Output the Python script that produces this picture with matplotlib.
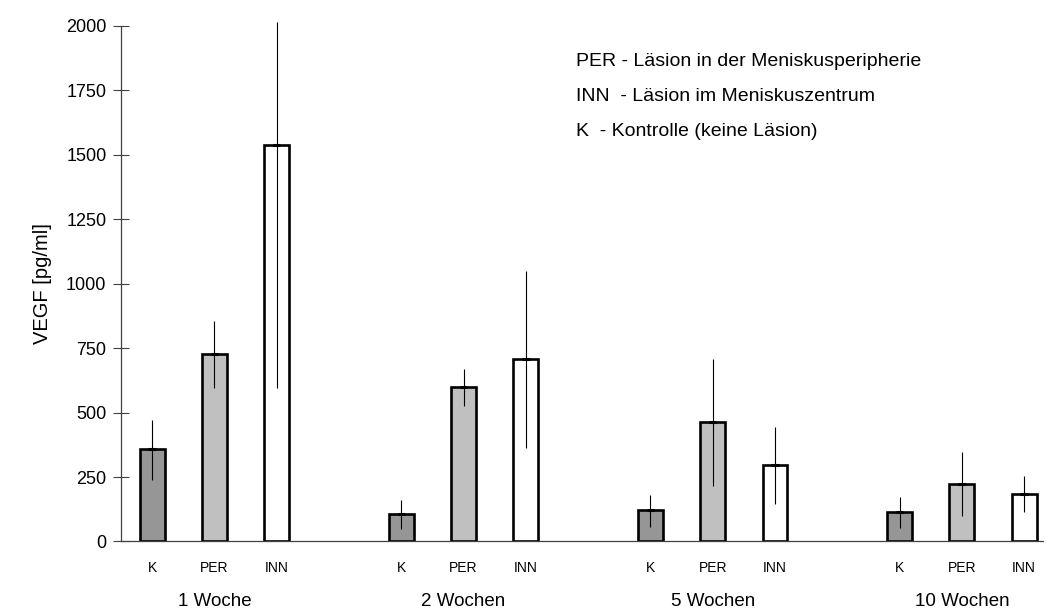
import matplotlib.pyplot as plt
import numpy as np

plt.rcParams['font.family'] = ['Liberation Sans', 'DejaVu Sans']

wochen = ["1 Woche", "2 Wochen", "5 Wochen", "10 Wochen"]
gruppen = ["K", "PER", "INN"]
farben = ["#969696", "#c0c0c0", "#ffffff"]

# Mittelwerte je Gruppe (K, PER, INN) pro Zeitpunkt
mittel = {
    "K":   [358, 106, 121, 115],
    "PER": [728, 599, 463, 225],
    "INN": [1539, 709, 296, 186],
}
# Fehlerbalken unten / oben
unten = {
    "K":   [239, 47, 57, 54],
    "PER": [596, 526, 217, 99],
    "INN": [597, 364, 144, 113],
}
oben = {
    "K":   [472, 161, 181, 172],
    "PER": [856, 669, 708, 348],
    "INN": [2017, 1050, 443, 253],
}

fig = plt.figure(figsize=(10.47, 6.10), dpi=100)
ax = fig.add_axes([0.1156, 0.1123, 0.8804, 0.8451])

pos_alle = []
lab_alle = []
for gi, g in enumerate(gruppen):
    x = np.arange(len(wochen)) * 4 + gi
    ax.bar(x, mittel[g], width=0.4, color=farben[gi], edgecolor="black",
           linewidth=1.9, zorder=2)
    ax.vlines(x, unten[g], oben[g], color="black", linewidth=0.8, zorder=3, clip_on=False)
    ax.hlines(mittel[g], x - 0.06, x + 0.06, color="black", linewidth=2.2, zorder=3)
    pos_alle += list(x)
    lab_alle += [g] * len(wochen)

ax.set_xlim(-0.5, 14.3)
ax.set_ylim(0, 2000)
ax.set_yticks(np.arange(0, 2001, 250))
ax.tick_params(axis="y", direction="inout", length=11, width=0.8, color="#404040",
               labelsize=13, pad=5)
ax.set_xticks(pos_alle)
ax.set_xticklabels(lab_alle, fontsize=10)
ax.tick_params(axis="x", length=0, pad=14)

for s in ["top", "right"]:
    ax.spines[s].set_visible(False)
for s in ["left", "bottom"]:
    ax.spines[s].set_color("#404040")
    ax.spines[s].set_linewidth(0.9)

for i, w in enumerate(wochen):
    ax.text(i * 4 + 1, -0.117, w, transform=ax.get_xaxis_transform(),
            ha="center", va="center", fontsize=13.5)

ax.set_ylabel("VEGF [pg/ml]", fontsize=14.5, labelpad=10)

legende = ["PER - Läsion in der Meniskusperipherie",
           "INN  - Läsion im Meniskuszentrum",
           "K  - Kontrolle (keine Läsion)"]
for i, t in enumerate(legende):
    fig.text(576 / 1047, 1 - (62 + i * 34.5) / 610, t, fontsize=14, va="center", ha="left")

fig.savefig("out.png", dpi=100)
